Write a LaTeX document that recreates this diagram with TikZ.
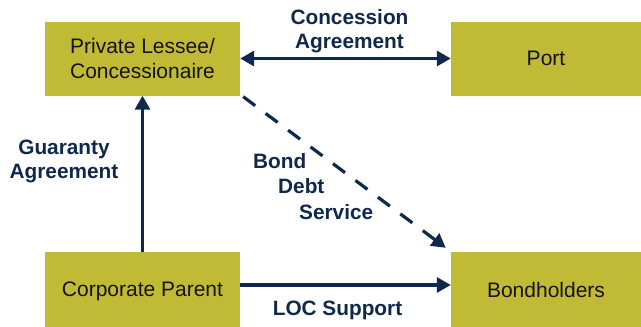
\documentclass[tikz,border=0pt]{standalone}
\usepackage{fontspec}
\setmainfont{Liberation Sans}
\usetikzlibrary{arrows.meta}
\definecolor{boxfill}{RGB}{192,186,52}
\definecolor{navy}{RGB}{16,40,75}
\definecolor{boxtext}{RGB}{20,20,20}
\begin{document}
\begin{tikzpicture}[x=1pt,y=-1pt,
  box/.style={draw=none,fill=boxfill,minimum width=195pt,minimum height=74pt,inner sep=0pt,
    align=center,text=boxtext,font=\fontsize{21}{25}\selectfont},
  lbl/.style={anchor=base,inner sep=0pt,text=navy,font=\fontsize{20.8}{25}\selectfont\bfseries},
  conn/.style={draw=navy,line width=3.2pt},
  tip/.style={-{Triangle[length=14pt,width=15pt]}},
  dtip/.style={{Triangle[length=14pt,width=15pt]}-{Triangle[length=14pt,width=15pt]}}]
\useasboundingbox (0,0) rectangle (641,327);
\node[box] (lessee) at (142.5,58.5) {Private Lessee/\\Concessionaire};
\node[box,minimum width=190pt] (port) at (546,58.5) {Port};
\node[box,minimum height=75pt,text depth=0pt] (corp) at (142.5,289.5) {Corporate Parent};
\node[box,minimum width=190pt,minimum height=75pt] (bond) at (546,289.5) {Bondholders};
\draw[conn,dtip] (lessee.east) -- (port.west);
\draw[conn,tip] (corp.north) -- (lessee.south);
\draw[conn,tip] ([yshift=4.5pt]corp.east) -- ([yshift=4.5pt]bond.west);
\draw[conn,tip,dash pattern=on 15pt off 13pt] ([xshift=3pt,yshift=-1pt]lessee.south east) -- ([xshift=-5pt,yshift=4pt]bond.north west);
\node[lbl] (ca1) at (349.5,24) {Concession};
\node[lbl] (ca2) at (349.5,48) {Agreement};
\node[lbl] (ga1) at (64,154) {Guaranty};
\node[lbl] (ga2) at (64,178) {Agreement};
\node[lbl,anchor=base west] (bd1) at (253,168) {Bond};
\node[lbl,anchor=base west] (bd2) at (278,193) {Debt};
\node[lbl,anchor=base west] (bd3) at (299,219) {Service};
\node[lbl] (loc) at (337.5,315) {LOC Support};
\end{tikzpicture}
\end{document}
